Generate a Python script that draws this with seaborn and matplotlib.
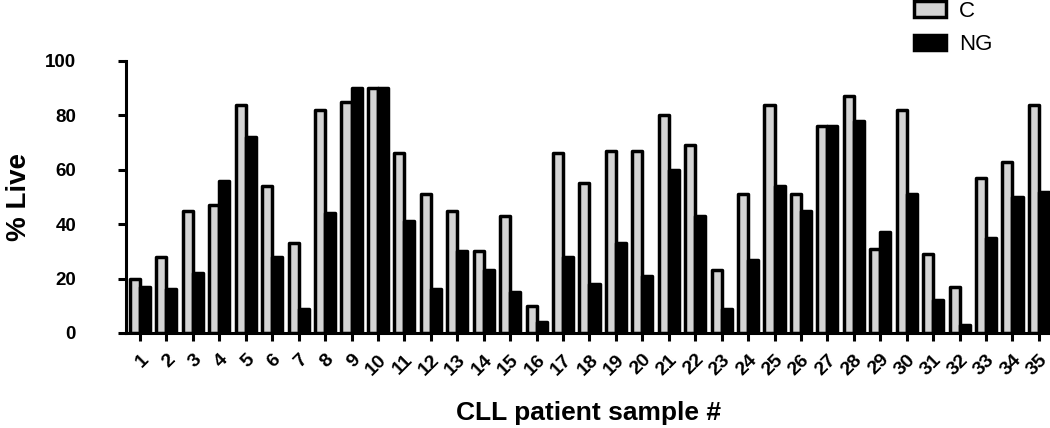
import pandas as pd
import seaborn as sns
import matplotlib.pyplot as plt
from matplotlib.patches import Patch

# % live cells per CLL patient sample, control (C) vs NG treatment
patients = [str(i) for i in range(1, 36)]
c_values = [20, 28, 45, 47, 84, 54, 33, 82, 85, 90,
            66, 51, 45, 30, 43, 10, 66, 55, 67, 67,
            80, 69, 23, 51, 84, 51, 76, 87, 31, 82,
            29, 17, 57, 63, 84]
ng_values = [17, 16, 22, 56, 72, 28, 9, 44, 90, 90,
             41, 16, 30, 23, 15, 4, 28, 18, 33, 21,
             60, 43, 9, 27, 54, 45, 76, 78, 37, 51,
             12, 3, 35, 50, 52]
conditions = ["C", "NG"]
colors = {"C": "#d4d4d4", "NG": "black"}

df = pd.DataFrame({
    "patient": patients * 2,
    "condition": ["C"] * len(patients) + ["NG"] * len(patients),
    "live": c_values + ng_values,
})

sns.set_style("ticks", {"text.color": "black", "axes.labelcolor": "black",
                        "xtick.color": "black", "ytick.color": "black",
                        "axes.edgecolor": "black"})
plt.rcParams["font.family"] = ["Liberation Sans", "DejaVu Sans"]

fig = plt.figure(figsize=(10.5, 4.28), dpi=100)
ax = fig.add_axes([0.12, 0.222, 0.88, 0.6355])

sns.barplot(data=df, x="patient", y="live", hue="condition", order=patients,
            hue_order=conditions, palette=colors, edgecolor="black",
            linewidth=2.5, width=0.76, gap=0, legend=False, ax=ax)
for bar in ax.patches:
    bar.set_joinstyle("round")

ax.set_xlim(-0.53, 34.42)
ax.set_ylim(0, 100)
ax.set_yticks([0, 20, 40, 60, 80, 100])
sns.despine(ax=ax)
for side in ["left", "bottom"]:
    ax.spines[side].set_linewidth(2.2)

ax.tick_params(axis="y", length=6, width=2.2, pad=30, labelsize=13.5)
ax.tick_params(axis="x", length=6, width=2.2, pad=7, labelsize=14)
for lab in ax.get_yticklabels():
    lab.set_fontweight("bold")
for lab in ax.get_xticklabels():
    lab.set_fontweight("bold")
    lab.set_rotation(45)
    lab.set_ha("right")
    lab.set_va("top")
    lab.set_rotation_mode("anchor")

ax.set_ylabel("% Live", fontsize=20, fontweight="bold", labelpad=9)
ax.set_xlabel("CLL patient sample #", fontsize=19, fontweight="bold", labelpad=16)

handles = [Patch(facecolor=colors[c], edgecolor="black", linewidth=2.5, label=c)
           for c in conditions]
ax.legend(handles=handles, loc="upper left", bbox_to_anchor=(0.866, 1.008),
          bbox_transform=fig.transFigure, frameon=False, fontsize=16,
          handlelength=1.45, handleheight=0.7, labelspacing=0.55,
          handletextpad=0.6, borderaxespad=0, borderpad=0.2)

fig.savefig("out.png", dpi=100)
